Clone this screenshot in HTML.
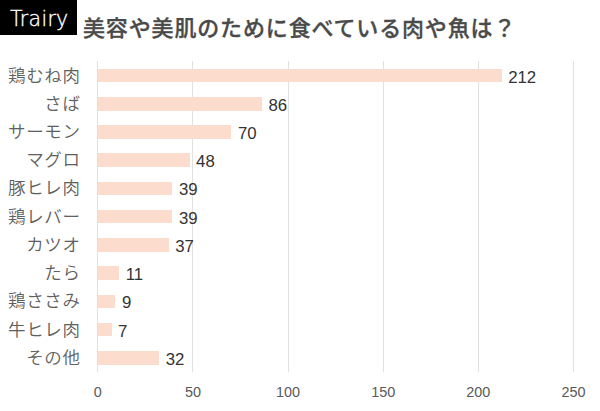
<!DOCTYPE html>
<html lang="ja"><head><meta charset="utf-8"><title>美容や美肌のために食べている肉や魚は？</title>
<style>
html,body{margin:0;padding:0;background:#fff;}
body{width:600px;height:411px;position:relative;overflow:hidden;}
.logo{position:absolute;left:0;top:0;width:77px;height:35px;background:#000;}
.logo span{position:absolute;left:10px;top:5.5px;color:#fff;font:200 20.5px/26px "DejaVu Sans",sans-serif;letter-spacing:0.3px;-webkit-text-stroke:0.35px #fff;}
.title{position:absolute;left:83px;top:14px;color:#4a4a4a;letter-spacing:0.85px;-webkit-text-stroke:0.3px #4a4a4a;font:500 22px/30px "Liberation Sans","Noto Sans CJK JP",sans-serif;white-space:nowrap;}
.g{position:absolute;top:61px;height:311px;width:1px;background:#e0e0e0;}
.b{position:absolute;left:98.30px;height:13.6px;background:#fcdccc;}
.c{position:absolute;right:519.5px;letter-spacing:0.6px;color:#606060;font:350 17.5px/26px "Liberation Sans","Noto Sans CJK JP",sans-serif;white-space:nowrap;text-align:right;}
.v{position:absolute;color:#333;font:16.8px/24px "Liberation Sans",sans-serif;white-space:nowrap;}
.t{position:absolute;top:381px;width:60px;text-align:center;color:#595959;font:14.4px/22px "Liberation Sans",sans-serif;}
</style></head><body>
<div class="logo"><span>Trairy</span></div>
<div class="title">美容や美肌のために食べている肉や魚は？</div>
<div class="g" style="left:97.30px"></div>
<div class="t" style="left:67.80px">0</div>
<div class="g" style="left:192.43px"></div>
<div class="t" style="left:162.93px">50</div>
<div class="g" style="left:287.55px"></div>
<div class="t" style="left:258.05px">100</div>
<div class="g" style="left:382.68px"></div>
<div class="t" style="left:353.18px">150</div>
<div class="g" style="left:477.80px"></div>
<div class="t" style="left:448.30px">200</div>
<div class="g" style="left:572.92px"></div>
<div class="t" style="left:543.42px">250</div>
<div class="b" style="top:68.72px;width:403.33px"></div>
<div class="c" style="top:62.52px">鶏むね肉</div>
<div class="v" style="top:65.52px;left:508.13px">212</div>
<div class="b" style="top:96.95px;width:163.62px"></div>
<div class="c" style="top:90.75px">さば</div>
<div class="v" style="top:93.75px;left:268.42px">86</div>
<div class="b" style="top:125.19px;width:133.18px"></div>
<div class="c" style="top:118.99px">サーモン</div>
<div class="v" style="top:121.99px;left:237.98px">70</div>
<div class="b" style="top:153.43px;width:91.32px"></div>
<div class="c" style="top:147.23px">マグロ</div>
<div class="v" style="top:150.23px;left:196.12px">48</div>
<div class="b" style="top:181.66px;width:74.20px"></div>
<div class="c" style="top:175.46px">豚ヒレ肉</div>
<div class="v" style="top:178.46px;left:179.00px">39</div>
<div class="b" style="top:209.90px;width:74.20px"></div>
<div class="c" style="top:203.70px">鶏レバー</div>
<div class="v" style="top:206.70px;left:179.00px">39</div>
<div class="b" style="top:238.14px;width:70.39px"></div>
<div class="c" style="top:231.94px">カツオ</div>
<div class="v" style="top:234.94px;left:175.19px">37</div>
<div class="b" style="top:266.37px;width:20.93px"></div>
<div class="c" style="top:260.17px">たら</div>
<div class="v" style="top:263.17px;left:125.73px">11</div>
<div class="b" style="top:294.61px;width:17.12px"></div>
<div class="c" style="top:288.41px">鶏ささみ</div>
<div class="v" style="top:291.41px;left:121.92px">9</div>
<div class="b" style="top:322.85px;width:13.32px"></div>
<div class="c" style="top:316.65px">牛ヒレ肉</div>
<div class="v" style="top:319.65px;left:118.12px">7</div>
<div class="b" style="top:351.08px;width:60.88px"></div>
<div class="c" style="top:344.88px">その他</div>
<div class="v" style="top:347.88px;left:165.68px">32</div>
</body></html>
